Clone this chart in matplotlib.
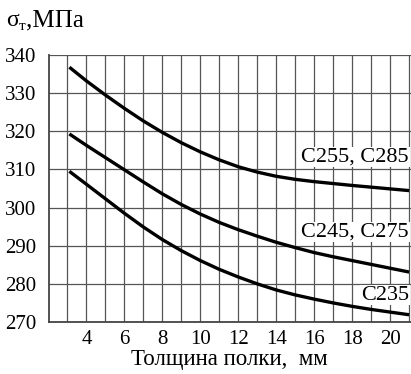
import numpy as np
import matplotlib
matplotlib.use('Agg')
import matplotlib.pyplot as plt

plt.rcParams['font.family'] = ['Liberation Serif', 'DejaVu Serif']

# flange thickness, mm
thickness = [3.1, 4, 5, 6, 7, 8, 9, 10, 11, 12, 13, 14, 15, 16, 17, 18, 19, 20, 21]

# yield strength, MPa
c255_c285 = [336.8, 333.2, 329.5, 326.0, 322.7, 319.7, 317.0, 314.6, 312.5, 310.7,
             309.3, 308.2, 307.4, 306.8, 306.3, 305.8, 305.35, 304.9, 304.45]
c245_c275 = [319.3, 316.3, 313.1, 309.9, 306.7, 303.6, 300.8, 298.3, 296.1, 294.2,
             292.5, 290.9, 289.5, 288.2, 287.1, 286.1, 285.1, 284.1, 283.1]
c235 = [309.5, 306.1, 302.3, 298.5, 294.9, 291.6, 288.7, 286.1, 283.8, 281.8,
        280.0, 278.4, 277.1, 276.0, 275.0, 274.1, 273.3, 272.6, 271.9]

labels = ['С255, С285', 'С245, С275', 'С235']
label_y = [313.2, 293.6, 277.0]

x_ticks = [4, 6, 8, 10, 12, 14, 16, 18, 20]
y_ticks = [270, 280, 290, 300, 310, 320, 330, 340]

W, H = 411, 374
fig = plt.figure(figsize=(W / 100, H / 100), dpi=100)
ax = fig.add_axes([48.5 / W, 1 - 322 / H, 1 - 48.5 / W, (322 - 55) / H])

for ys in (c255_c285, c245_c275, c235):
    ax.plot(thickness, ys, color='black', lw=2.4, solid_capstyle='butt',
            solid_joinstyle='round', zorder=3)

ax.set_xlim(2, 21.1)
ax.set_ylim(270, 340)
ax.set_xticks(x_ticks)
ax.set_yticks(y_ticks)
ax.set_xticks(np.arange(3, 22), minor=True)

ax.grid(True, which='both', axis='x', color='#555555', lw=0.9)
ax.grid(True, which='major', axis='y', color='#555555', lw=0.9)
ax.set_axisbelow(True)

ax.tick_params(which='both', length=0)
ax.tick_params(axis='y', pad=9, labelsize=15)
ax.tick_params(axis='x', pad=6, labelsize=15)

for side in ('top', 'right'):
    ax.spines[side].set_visible(False)
for side in ('left', 'bottom'):
    ax.spines[side].set_color('#444444')
    ax.spines[side].set_linewidth(1.3)

ax.set_xlabel('Толщина полки,  мм', fontsize=16.5, labelpad=0)

# grade labels sit under the curves but over the grid
for text, yv in zip(labels, label_y):
    ax.text(21.0, yv, text, ha='right', va='center', fontsize=16, zorder=2.5,
            bbox=dict(facecolor='white', edgecolor='none', pad=0.5))

# axis title: sigma with a subscript т
fig.text(6 / W, 1 - 26 / H, 'σ', fontsize=17, va='baseline')
fig.text(19 / W, 1 - 30 / H, 'т', fontsize=11, va='baseline')
fig.text(26 / W, 1 - 26 / H, ',МПа', fontsize=18, va='baseline')

fig.savefig('out.png', dpi=100)
